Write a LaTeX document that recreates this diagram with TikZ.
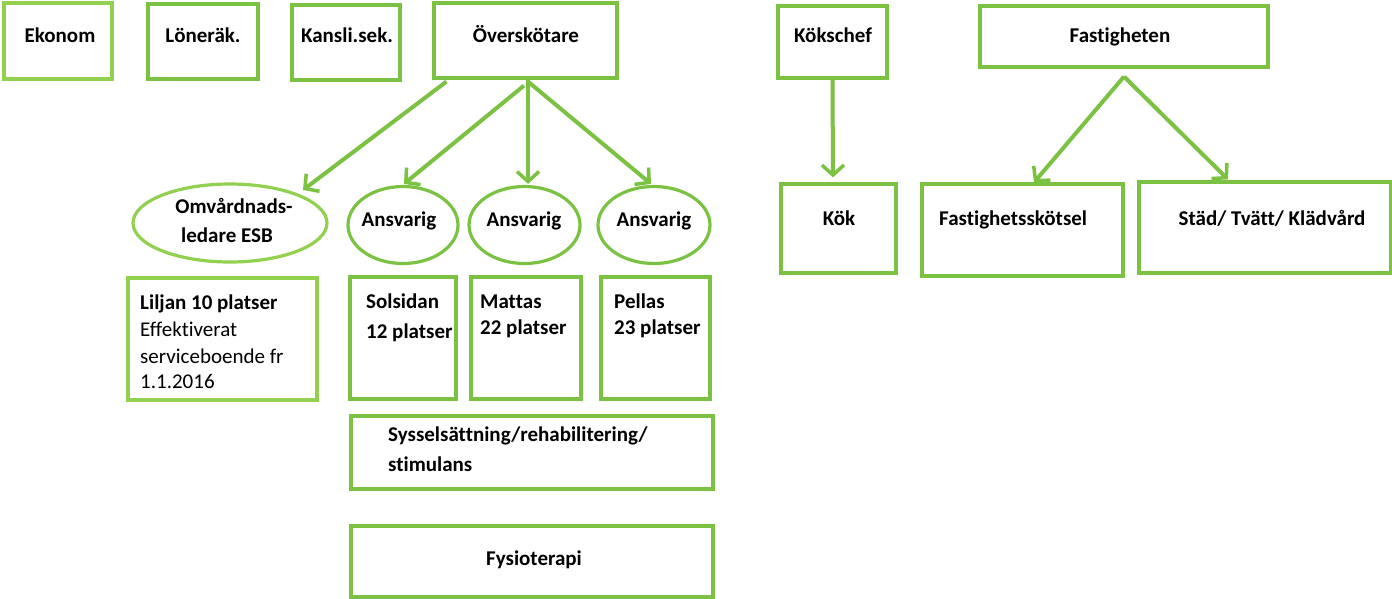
\documentclass[tikz,border=0pt]{standalone}
\usepackage{fontspec}
\setmainfont{Carlito}[Ligatures=NoCommon]
\usetikzlibrary{arrows.meta,shapes.geometric,calc}
\definecolor{gr}{HTML}{7CC242}
\definecolor{lgr}{HTML}{92D050}
\tikzset{
  box/.style={draw=gr, line width=3.2pt, rectangle, inner sep=0pt},
  lbox/.style={box, draw=lgr},
  ell/.style={draw=gr, line width=3.2pt, ellipse, inner sep=0pt},
  lell/.style={ell, draw=lgr},
  txt/.style={font=\fontsize{21}{25}\selectfont\bfseries, inner sep=0pt, text height=1.5ex, text depth=.25ex, yshift=-5pt},
  rtxt/.style={font=\fontsize{21}{25}\selectfont, inner sep=0pt, text height=1.5ex, text depth=.25ex, yshift=-5pt},
  arr/.style={draw=gr, line width=4pt, -{Straight Barb[length=10pt,width=22pt,line width=3.5pt]}},
}
\begin{document}
\begin{tikzpicture}[x=1pt,y=-1pt]
\useasboundingbox[fill=white] (0,0) rectangle (1392,598);
% top row
\node[lbox, minimum width=108, minimum height=76] (ekonom) at (58,41) {};
\node[txt] (tekonom) at (60,35) {Ekonom};
\node[box, minimum width=110, minimum height=75] (lonerak) at (203,41.5) {};
\node[txt] (tlonerak) at (203,35) {Löneräk.};
\node[box, minimum width=108, minimum height=75] (kansli) at (346,42.5) {};
\node[txt] (tkansli) at (347,35) {Kansli.sek.};
\node[box, minimum width=183, minimum height=75] (over) at (525.5,40.5) {};
\node[txt] (tover) at (526,35) {Överskötare};
\node[box, minimum width=109, minimum height=72] (kokschef) at (832.5,42) {};
\node[txt] (tkokschef) at (833,35) {Kökschef};
\node[box, minimum width=288, minimum height=61] (fast) at (1124,36.5) {};
\node[txt] (tfast) at (1120,35) {Fastigheten};
% middle row
\node[lell, minimum width=194, minimum height=78] (omv) at (230,223) {};
\node[txt] (tomv1) at (234,206) {Omvårdnads-};
\node[txt] (tomv2) at (227,235) {ledare ESB};
\node[ell, minimum width=110, minimum height=77] (ans1) at (403,225) {};
\node[txt] (tans1) at (399,219) {Ansvarig};
\node[ell, minimum width=111, minimum height=77] (ans2) at (524.5,225) {};
\node[txt] (tans2) at (524,219) {Ansvarig};
\node[ell, minimum width=112, minimum height=77] (ans3) at (654,225) {};
\node[txt] (tans3) at (654,219) {Ansvarig};
\node[box, minimum width=115, minimum height=89] (kok) at (838.5,228.5) {};
\node[txt] (tkok) at (839,218) {Kök};
\node[box, minimum width=201, minimum height=92] (fsk) at (1022.5,230) {};
\node[txt, anchor=west] (tfsk) at (939,218) {Fastighetsskötsel};
\node[box, minimum width=252, minimum height=91] (stad) at (1265,227.5) {};
\node[txt] (tstad) at (1272,218) {Städ/ Tvätt/ Klädvård};
% lower row
\node[lbox, minimum width=189, minimum height=122] (liljan) at (222.5,339) {};
\node[txt, anchor=west] (tlil1) at (140,302) {Liljan 10 platser};
\node[rtxt, anchor=west] (tlil2) at (140,329) {Effektiverat};
\node[rtxt, anchor=west] (tlil3) at (140,356) {serviceboende fr};
\node[rtxt, anchor=west] (tlil4) at (140,381) {1.1.2016};
\node[box, minimum width=106, minimum height=122] (sol) at (403,338) {};
\node[txt, anchor=west] (tsol1) at (366,301) {Solsidan};
\node[txt, anchor=west] (tsol2) at (366,331) {12 platser};
\node[box, minimum width=110, minimum height=122] (mat) at (526,338) {};
\node[txt, anchor=west] (tmat1) at (480,301) {Mattas};
\node[txt, anchor=west] (tmat2) at (480,327) {22 platser};
\node[box, minimum width=109, minimum height=122] (pel) at (655.5,338) {};
\node[txt, anchor=west] (tpel1) at (614,301) {Pellas};
\node[txt, anchor=west] (tpel2) at (614,327) {23 platser};
\node[box, minimum width=362, minimum height=73] (sys) at (532,452.5) {};
\node[txt, anchor=west] (tsys1) at (388,434) {Sysselsättning/rehabilitering/};
\node[txt, anchor=west] (tsys2) at (388,464) {stimulans};
\node[box, minimum width=362, minimum height=71] (fys) at (532,561.5) {};
\node[txt] (tfys) at (534,558) {Fysioterapi};
% arrows
\draw[arr] ($(over.south west)+(14,2)$) -- ($(omv.center)+(73,-33)$);
\draw[arr] ($(over.south)+(-1.5,6)$) -- ($(ans1.north)+(1,-1)$);
\draw[arr] ($(over.south)+(2.5,0)$) -- ($(ans2.north)+(3.5,-1)$);
\draw[arr] ($(over.south)+(2.5,2)$) -- ($(ans3.north)+(-3,-1)$);
\draw[arr] (kokschef.south) -- ($(kok.north)+(-5.5,-5)$);
\draw[arr] ($(fast.south)+(0,8)$) -- ($(fsk.north)+(11.5,0)$);
\draw[arr] ($(fast.south)+(0,8)$) -- ($(stad.north)+(-37,-1)$);
\end{tikzpicture}
\end{document}
